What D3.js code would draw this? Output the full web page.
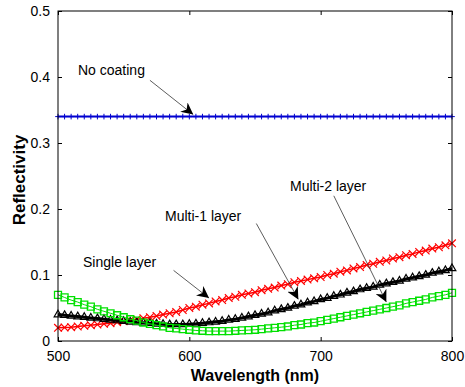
<!DOCTYPE html>
<html>
<head>
<meta charset="utf-8">
<script src="https://cdn.jsdelivr.net/npm/d3@7"></script>
<style>
    body { margin: 0; background: #fff; }
    text { font-family: 'Liberation Sans', Arial, sans-serif; }
</style>
</head>
<body>
<script>
// wavelength grid, nm (every 5 nm)
var wavelengths = [
    500, 505, 510, 515, 520, 525, 530, 535, 540, 545,
    550, 555, 560, 565, 570, 575, 580, 585, 590, 595,
    600, 605, 610, 615, 620, 625, 630, 635, 640, 645,
    650, 655, 660, 665, 670, 675, 680, 685, 690, 695,
    700, 705, 710, 715, 720, 725, 730, 735, 740, 745,
    750, 755, 760, 765, 770, 775, 780, 785, 790, 795, 800
];

var noCoating = [
    0.34, 0.34, 0.34, 0.34, 0.34, 0.34, 0.34, 0.34, 0.34, 0.34,
    0.34, 0.34, 0.34, 0.34, 0.34, 0.34, 0.34, 0.34, 0.34, 0.34,
    0.34, 0.34, 0.34, 0.34, 0.34, 0.34, 0.34, 0.34, 0.34, 0.34,
    0.34, 0.34, 0.34, 0.34, 0.34, 0.34, 0.34, 0.34, 0.34, 0.34,
    0.34, 0.34, 0.34, 0.34, 0.34, 0.34, 0.34, 0.34, 0.34, 0.34,
    0.34, 0.34, 0.34, 0.34, 0.34, 0.34, 0.34, 0.34, 0.34, 0.34, 0.34
];

var singleLayer = [
    0.020, 0.0205, 0.021, 0.022, 0.023, 0.024, 0.025, 0.026, 0.027, 0.0285,
    0.030, 0.0315, 0.033, 0.0345, 0.036, 0.038, 0.040, 0.042, 0.044, 0.047,
    0.050, 0.052, 0.055, 0.057, 0.060, 0.062, 0.065, 0.067, 0.070, 0.072,
    0.074, 0.077, 0.079, 0.081, 0.084, 0.086, 0.089, 0.091, 0.093, 0.095,
    0.097, 0.100, 0.102, 0.105, 0.107, 0.110, 0.112, 0.115, 0.117, 0.120,
    0.122, 0.125, 0.127, 0.130, 0.132, 0.135, 0.137, 0.140, 0.142, 0.145, 0.148
];

var multi1 = [
    0.040, 0.039, 0.038, 0.037, 0.036, 0.035, 0.034, 0.033, 0.032, 0.031,
    0.030, 0.029, 0.028, 0.0275, 0.027, 0.026, 0.0255, 0.025, 0.025, 0.025,
    0.0255, 0.026, 0.027, 0.028, 0.029, 0.030, 0.032, 0.033, 0.035, 0.037,
    0.039, 0.041, 0.043, 0.046, 0.048, 0.050, 0.053, 0.055, 0.058, 0.060,
    0.063, 0.065, 0.068, 0.070, 0.073, 0.075, 0.078, 0.080, 0.082, 0.085,
    0.087, 0.089, 0.091, 0.094, 0.096, 0.098, 0.100, 0.103, 0.105, 0.107, 0.110
];

var multi2 = [
    0.070, 0.066, 0.062, 0.059, 0.055, 0.052, 0.048, 0.045, 0.042, 0.039,
    0.036, 0.033, 0.031, 0.028, 0.026, 0.024, 0.022, 0.020, 0.019, 0.018,
    0.017, 0.016, 0.0155, 0.015, 0.015, 0.015, 0.015, 0.0155, 0.016, 0.0165,
    0.017, 0.018, 0.019, 0.020, 0.021, 0.022, 0.024, 0.025, 0.027, 0.028,
    0.030, 0.032, 0.034, 0.036, 0.038, 0.040, 0.042, 0.044, 0.046, 0.048,
    0.050, 0.052, 0.054, 0.057, 0.059, 0.061, 0.063, 0.066, 0.068, 0.070, 0.073
];

var xTicks = [500, 600, 700, 800];
var yTicks = [0, 0.1, 0.2, 0.3, 0.4, 0.5];

var width = 465,
    height = 387,
    margin = { top: 11, right: 13, bottom: 46, left: 58 },
    plotW = width - margin.left - margin.right,
    plotH = height - margin.top - margin.bottom;

var svg = d3.select('body')
    .append('svg')
    .attr('width', width)
    .attr('height', height);

var x = d3.scaleLinear().domain([500, 800]).range([0, plotW]);
var y = d3.scaleLinear().domain([0, 0.5]).range([plotH, 0]);

var g = svg.append('g')
    .attr('transform', 'translate(' + margin.left + ',' + margin.top + ')');

// series: line + dense markers
var series = [
    { values: noCoating,   color: '#0000d0', lw: 2,   symbol: d3.symbolPlus,      size: 12, mw: 1 },
    { values: singleLayer, color: '#ff0000', lw: 1.5, symbol: d3.symbolTimes,     size: 40, mw: 1.2 },
    { values: multi1,      color: '#000000', lw: 3,   symbol: d3.symbolTriangle2, size: 42, mw: 1.2 },
    { values: multi2,      color: '#00e000', lw: 1,   symbol: d3.symbolSquare2,   size: 62, mw: 1.3 }
];

var line = d3.line()
    .x(function(d) { return x(d[0]); })
    .y(function(d) { return y(d[1]); });

series.forEach(function(s) {
    var pts = wavelengths.map(function(w, i) { return [w, s.values[i]]; });

    g.append('path')
        .datum(pts)
        .attr('d', line)
        .attr('fill', 'none')
        .attr('stroke', s.color)
        .attr('stroke-width', s.lw);

    g.append('g')
        .selectAll('path')
        .data(pts)
        .enter()
        .append('path')
        .attr('transform', function(d) { return 'translate(' + x(d[0]) + ',' + y(d[1]) + ')'; })
        .attr('d', d3.symbol().type(s.symbol).size(s.size))
        .attr('fill', 'none')
        .attr('stroke', s.color)
        .attr('stroke-width', s.mw);
});

// box with inward ticks on all sides (matlab style)
g.append('rect')
    .attr('width', plotW)
    .attr('height', plotH)
    .attr('fill', 'none')
    .attr('stroke', '#000')
    .attr('stroke-width', 1);

var tickLen = 4;

g.append('g')
    .attr('transform', 'translate(0,' + plotH + ')')
    .call(d3.axisBottom(x).tickValues(xTicks).tickSizeInner(-tickLen).tickSizeOuter(0).tickPadding(10))
    .call(function(a) {
        a.select('.domain').remove();
        a.selectAll('text').attr('font-size', 14).attr('font-family', null).attr('fill', '#000');
    });

g.append('g')
    .call(d3.axisTop(x).tickValues(xTicks).tickSizeInner(-tickLen).tickSizeOuter(0).tickFormat(''))
    .call(function(a) { a.select('.domain').remove(); });

g.append('g')
    .call(d3.axisLeft(y).tickValues(yTicks).tickSizeInner(-tickLen).tickSizeOuter(0).tickPadding(8)
        .tickFormat(function(d) { return d === 0 ? '0' : d3.format('.1f')(d); }))
    .call(function(a) {
        a.select('.domain').remove();
        a.selectAll('text').attr('font-size', 14).attr('font-family', null).attr('fill', '#000');
    });

g.append('g')
    .attr('transform', 'translate(' + plotW + ',0)')
    .call(d3.axisRight(y).tickValues(yTicks).tickSizeInner(-tickLen).tickSizeOuter(0).tickFormat(''))
    .call(function(a) { a.select('.domain').remove(); });

// axis titles
svg.append('text')
    .attr('x', margin.left + plotW / 2)
    .attr('y', 381)
    .attr('text-anchor', 'middle')
    .attr('font-size', 16)
    .attr('font-weight', 'bold')
    .text('Wavelength (nm)');

svg.append('text')
    .attr('transform', 'translate(25,' + (margin.top + plotH / 2 + 4) + ') rotate(-90)')
    .attr('text-anchor', 'middle')
    .attr('font-size', 17)
    .attr('font-weight', 'bold')
    .text('Reflectivity');

// annotations: label, arrow start (data coords), arrow tip (data coords)
var notes = [
    { text: 'No coating',    tx: 78,  ty: 75,  from: [570, 0.395], to: [603, 0.343] },
    { text: 'Single layer',  tx: 83,  ty: 267, from: [588, 0.107], to: [615, 0.065] },
    { text: 'Multi-1 layer', tx: 165, ty: 221, from: [651, 0.178], to: [683, 0.063] },
    { text: 'Multi-2 layer', tx: 290, ty: 191, from: [710, 0.220], to: [750, 0.059] }
];

svg.append('defs').append('marker')
    .attr('id', 'arrow')
    .attr('viewBox', '0 0 10 10')
    .attr('refX', 10)
    .attr('refY', 5)
    .attr('markerWidth', 12)
    .attr('markerHeight', 12)
    .attr('markerUnits', 'userSpaceOnUse')
    .attr('orient', 'auto')
    .append('path')
    .attr('d', 'M0,0 L10,5 L0,10 L3,5 Z')
    .attr('fill', '#000');

notes.forEach(function(n) {
    svg.append('text')
        .attr('x', n.tx)
        .attr('y', n.ty)
        .attr('font-size', 14)
        .text(n.text);

    g.append('line')
        .attr('x1', x(n.from[0]))
        .attr('y1', y(n.from[1]))
        .attr('x2', x(n.to[0]))
        .attr('y2', y(n.to[1]))
        .attr('stroke', '#333')
        .attr('stroke-width', 0.8)
        .attr('marker-end', 'url(#arrow)');
});
</script>
</body>
</html>
